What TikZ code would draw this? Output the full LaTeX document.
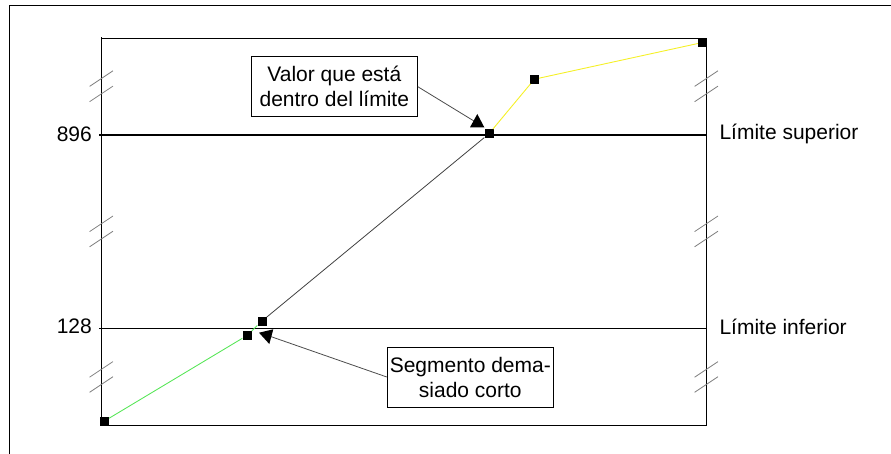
\documentclass[tikz,border=0pt]{standalone}
\usepackage{fontspec}
\setmainfont{Liberation Sans}
\definecolor{seggreen}{RGB}{90,230,90}
\definecolor{segyellow}{RGB}{245,240,40}
\begin{document}
\begin{tikzpicture}[x=1pt,y=-1pt,
  lbl/.style={font=\fontsize{21}{25}\selectfont, inner sep=0pt},
  callout/.style={draw, line width=1pt, minimum width=166pt, minimum height=60pt,
    align=center, font=\fontsize{21}{25}\selectfont, inner sep=0pt},
  brk/.style={draw=gray, line width=0.8pt},
  sample/.style={fill=black, minimum size=9pt, inner sep=0pt},
  lead/.style={draw=black!70, line width=0.8pt},
  tip/.style={fill=black}]
\useasboundingbox (0,0) rectangle (891,454);

% outer frame (top and left edges)
\draw[line width=1.2pt] (9.3,454) -- (9.3,5.3) -- (891,5.3);

% plot area
\draw[line width=1.3pt] (101.3,37.5) -- (101.3,425.3);
\draw[line width=1.3pt] (101.3,38.7) -- (706.3,38.7) -- (706.3,425.3) -- (100,425.3);

% limit lines
\draw[line width=2pt] (99,135) -- (706.3,135);
\draw[line width=1.3pt] (99,328.3) -- (706.3,328.3);

% axis break marks
\foreach \xa in {101.3,706.3}
  \foreach \yc in {78.6,93.9,223.8,239,369.4,384.5}
    \draw[brk] (\xa-11.7,\yc+7.8) -- (\xa+11.7,\yc-7.8);

% axis and limit labels
\node[lbl, anchor=east] (v896) at (92,134.7) {896};
\node[lbl, anchor=east] (v128) at (92,326.7) {128};
\node[lbl, anchor=base west] (sup) at (719.3,140) {Límite superior};
\node[lbl, anchor=base west] (inf) at (719.3,334) {Límite inferior};

% measured samples
\node[sample] (p1) at (104.5,421) {};
\node[sample] (p2) at (247,335.5) {};
\node[sample] (p3) at (262,321) {};
\node[sample] (p4) at (489,133.7) {};
\node[sample] (p5) at (534.4,79.2) {};
\node[sample] (p6) at (702.5,42.5) {};

\draw[seggreen, line width=0.9pt] (p1) -- (p2) -- (p3);
\draw[black!75, line width=0.8pt] (p3) -- (p4);
\draw[segyellow, line width=0.9pt] (p4) -- (p5) -- (p6);

% callouts
\node[callout] (c1) at (334.3,86.7) {Valor que está\\dentro del límite};
\node[callout] (c2) at (470.3,377) {Segmento dema-\\siado corto};

\coordinate (t1) at (477.2,123);
\coordinate (t2) at (267.2,335.3);
\draw[lead] (c1.east) -- (t1);
\draw[lead] (c2.west) -- (t2);
\fill[tip] (t1) +(-7.2,4.3) -- +(7.1,4.3) -- +(0.1,-9) -- cycle;
\fill[tip] (t2) +(-8.2,-2.6) -- +(6.1,-6) -- +(2.1,8.7) -- cycle;
\end{tikzpicture}
\end{document}
